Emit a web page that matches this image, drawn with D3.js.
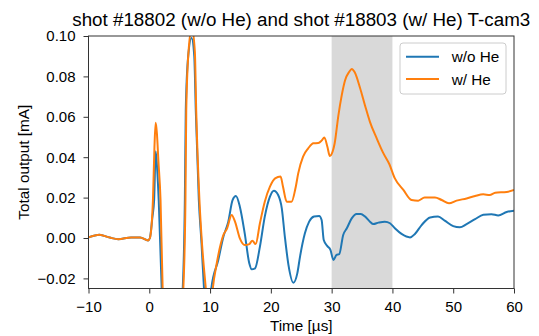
<!DOCTYPE html>
<html>
<head>
<meta charset="utf-8">
<script src="https://cdn.jsdelivr.net/npm/d3@7"></script>
<style>
  html, body { margin: 0; padding: 0; background: #fff; }
  svg { display: block; font-family: "Liberation Sans", Arial, Helvetica, sans-serif; }
</style>
</head>
<body>
<div id="chart"></div>
<script>
// time axis [us] and total output [mA]
const timeNoHe = [-10, -8.2, -6.5, -5.1, -3, -1.5, -0.2, 0.1, 0.5, 0.8, 1.05, 1.3, 1.55, 2.04, 3.7, 5.5,
  5.85, 6.0, 6.4, 6.95, 7.4, 7.65, 8.15, 8.6, 9.0, 9.6, 10.2, 11.35, 12.2, 13.0, 13.7, 14.26, 14.9,
  15.7, 16.45, 16.85, 17.4, 18.2, 19.0, 19.85, 20.5, 21.2, 21.8, 22.3, 22.9, 23.7, 24.35, 24.8, 25.6,
  26.3, 27.1, 27.95, 28.35, 28.7, 29.3, 29.8, 30.3, 30.8, 31.25, 31.9, 32.5, 33.3, 34.1, 34.8, 35.5,
  36.3, 36.85, 37.7, 38.75, 39.6, 40.4, 41.5, 42.9, 43.7, 44.8, 46.2, 47.5, 48.6, 50.0, 51.1, 52.2,
  53.6, 54.95, 56.3, 57.4, 58.8, 60];
const outputNoHe = [0.0003, 0.0016, 0.0002, -0.0006, 0.0003, 0.0003, -0.0012, 0.0, 0.01, 0.019, 0.043,
  0.034, 0.0188, -0.025, -0.09, -0.025, 0.0188, 0.063, 0.09, 0.099, 0.09, 0.063, 0.0188, -0.003, -0.025,
  -0.045, -0.025, -0.0109, 0.0007, 0.0081, 0.0188, 0.0208, 0.0155, 0.0023, -0.0125, -0.0155, -0.015,
  -0.0043, 0.0106, 0.0205, 0.0234, 0.0213, 0.0147, 0.0007, -0.0134, -0.0221, -0.0175, -0.0092, 0.0023,
  0.0081, 0.0106, 0.0109, 0.0089, -0.001, -0.004, -0.0059, -0.0109, -0.0084, -0.008, 0.0015, 0.0048,
  0.0097, 0.0119, 0.0119, 0.0106, 0.0081, 0.0069, 0.0076, 0.0081, 0.0073, 0.0048, 0.002, 0.0003, 0.002,
  0.0064, 0.0102, 0.0106, 0.0086, 0.0059, 0.0053, 0.0069, 0.0093, 0.0115, 0.0118, 0.0112, 0.0129, 0.0135];

const timeHe = [-10, -8.2, -6.5, -5.1, -3, -1.5, -0.2, 0.1, 0.6, 0.85, 1.05, 1.25, 1.5, 1.85, 2.2, 3.8,
  5.6, 5.95, 6.08, 6.45, 7.0, 7.5, 7.72, 8.25, 8.7, 9.3, 9.9, 10.45, 11.1, 12.2, 12.8, 13.55, 14.1,
  14.9, 15.7, 16.45, 16.95, 17.5, 18.2, 19.0, 19.85, 20.7, 21.6, 22.0, 22.6, 23.4, 24.1, 24.5, 25.3,
  26.15, 27.0, 27.8, 28.35, 28.8, 29.3, 29.7, 30.15, 30.5, 31.1, 31.65, 32.2, 32.9, 33.3, 33.8, 34.65,
  35.5, 36.3, 37.4, 38.5, 39.5, 40.4, 41.8, 43.15, 44.25, 45.3, 47.0, 48.1, 49.3, 50.55, 52.2, 53.6,
  54.95, 56.0, 56.9, 58.8, 60];
const outputHe = [0.0003, 0.0016, 0.0002, -0.0006, 0.0003, 0.0003, -0.0012, 0.0, 0.0188, 0.045, 0.057,
  0.052, 0.038, 0.0188, -0.025, -0.09, -0.025, 0.0188, 0.063, 0.092, 0.104, 0.092, 0.063, 0.0188, -0.004,
  -0.025, -0.045, -0.025, -0.0125, 0.0015, 0.0048, 0.0114, 0.0081, -0.0002, -0.0035, -0.003, -0.0013,
  -0.003, 0.0073, 0.018, 0.0254, 0.0295, 0.0304, 0.0254, 0.018, 0.018, 0.0254, 0.032, 0.0403, 0.0444,
  0.0469, 0.047, 0.0482, 0.0498, 0.0452, 0.0406, 0.0427, 0.0469, 0.0605, 0.0705, 0.078, 0.0823, 0.0837,
  0.082, 0.0745, 0.0655, 0.0575, 0.0494, 0.042, 0.0365, 0.0295, 0.0238, 0.0188, 0.0185, 0.0201, 0.0201,
  0.0188, 0.0172, 0.0185, 0.0196, 0.0208, 0.0216, 0.0213, 0.0224, 0.0228, 0.0238];

const seriesNames = ['w/o He', 'w/ He'];
const seriesColors = ['#1f77b4', '#ff7f0e'];
const xTicks = [-10, 0, 10, 20, 30, 40, 50, 60];
const yTicks = [-0.02, 0.00, 0.02, 0.04, 0.06, 0.08, 0.10];
const shadeSpan = [30, 40];

const width = 539, height = 336;
const margin = { top: 36, right: 25, bottom: 47.5, left: 88.5 };
const tickFont = 15, labelFont = 15.3, titleFont = 18.8;

const svg = d3.select('#chart')
  .append('svg')
  .attr('width', width)
  .attr('height', height);

const x = d3.scaleLinear().domain([-10, 60]).range([margin.left, width - margin.right]);
const y = d3.scaleLinear().domain([-0.025, 0.1]).range([height - margin.bottom, margin.top]);

svg.append('defs').append('clipPath').attr('id', 'plot-clip')
  .append('rect')
  .attr('x', x.range()[0]).attr('y', y.range()[1])
  .attr('width', x.range()[1] - x.range()[0])
  .attr('height', y.range()[0] - y.range()[1]);

// shaded window
svg.append('rect')
  .attr('x', x(shadeSpan[0]))
  .attr('y', y.range()[1])
  .attr('width', x(shadeSpan[1]) - x(shadeSpan[0]))
  .attr('height', y.range()[0] - y.range()[1])
  .attr('fill', '#d9d9d9');

const line = d3.line()
  .x(d => x(d[0]))
  .y(d => y(d[1]))
  .curve(d3.curveMonotoneX);

const series = [
  d3.zip(timeNoHe, outputNoHe),
  d3.zip(timeHe, outputHe)
];

svg.append('g')
  .attr('clip-path', 'url(#plot-clip)')
  .selectAll('path')
  .data(series)
  .enter()
  .append('path')
  .attr('d', line)
  .attr('fill', 'none')
  .attr('stroke', (d, i) => seriesColors[i])
  .attr('stroke-width', 2)
  .attr('stroke-linejoin', 'round');

// axes
const xAxis = svg.append('g')
  .attr('transform', `translate(0,${y.range()[0]})`)
  .call(d3.axisBottom(x).tickValues(xTicks).tickSize(5).tickPadding(8).tickFormat(d3.format('d')));

const yAxis = svg.append('g')
  .attr('transform', `translate(${x.range()[0]},0)`)
  .call(d3.axisLeft(y).tickValues(yTicks).tickSize(5).tickPadding(8).tickFormat(d3.format('.2f')));

[xAxis, yAxis].forEach(g => {
  g.select('.domain').remove();
  g.selectAll('.tick line').attr('stroke', '#333').attr('stroke-width', 1);
  g.selectAll('.tick text')
    .attr('fill', '#000')
    .attr('font-size', tickFont)
    .attr('font-family', '"Liberation Sans", Arial, sans-serif');
});

svg.append('rect')
  .attr('x', x.range()[0]).attr('y', y.range()[1])
  .attr('width', x.range()[1] - x.range()[0])
  .attr('height', y.range()[0] - y.range()[1])
  .attr('fill', 'none')
  .attr('stroke', '#333')
  .attr('stroke-width', 1);

// labels
svg.append('text')
  .attr('x', (x.range()[0] + x.range()[1]) / 2)
  .attr('y', 26)
  .attr('text-anchor', 'middle')
  .attr('font-size', titleFont)
  .text('shot #18802 (w/o He) and shot #18803 (w/ He) T-cam3');

svg.append('text')
  .attr('x', (x.range()[0] + x.range()[1]) / 2)
  .attr('y', 331)
  .attr('text-anchor', 'middle')
  .attr('font-size', labelFont)
  .text('Time [µs]');

svg.append('text')
  .attr('transform', `translate(29,${(y.range()[0] + y.range()[1]) / 2}) rotate(-90)`)
  .attr('text-anchor', 'middle')
  .attr('font-size', labelFont)
  .text('Total output [mA]');

// legend
const legend = svg.append('g').attr('transform', 'translate(400,43)');
legend.append('rect')
  .attr('width', 106).attr('height', 51)
  .attr('rx', 3)
  .attr('fill', '#fff').attr('fill-opacity', 0.8)
  .attr('stroke', '#ccc');

const items = legend.selectAll('g.item')
  .data(seriesNames)
  .enter()
  .append('g')
  .attr('class', 'item')
  .attr('transform', (d, i) => `translate(0,${13.7 + i * 22.3})`);

items.append('line')
  .attr('x1', 6).attr('x2', 39)
  .attr('stroke', (d, i) => seriesColors[i])
  .attr('stroke-width', 2);

items.append('text')
  .attr('x', 51.7).attr('y', 5.5)
  .attr('font-size', labelFont)
  .text(d => d);
</script>
</body>
</html>
